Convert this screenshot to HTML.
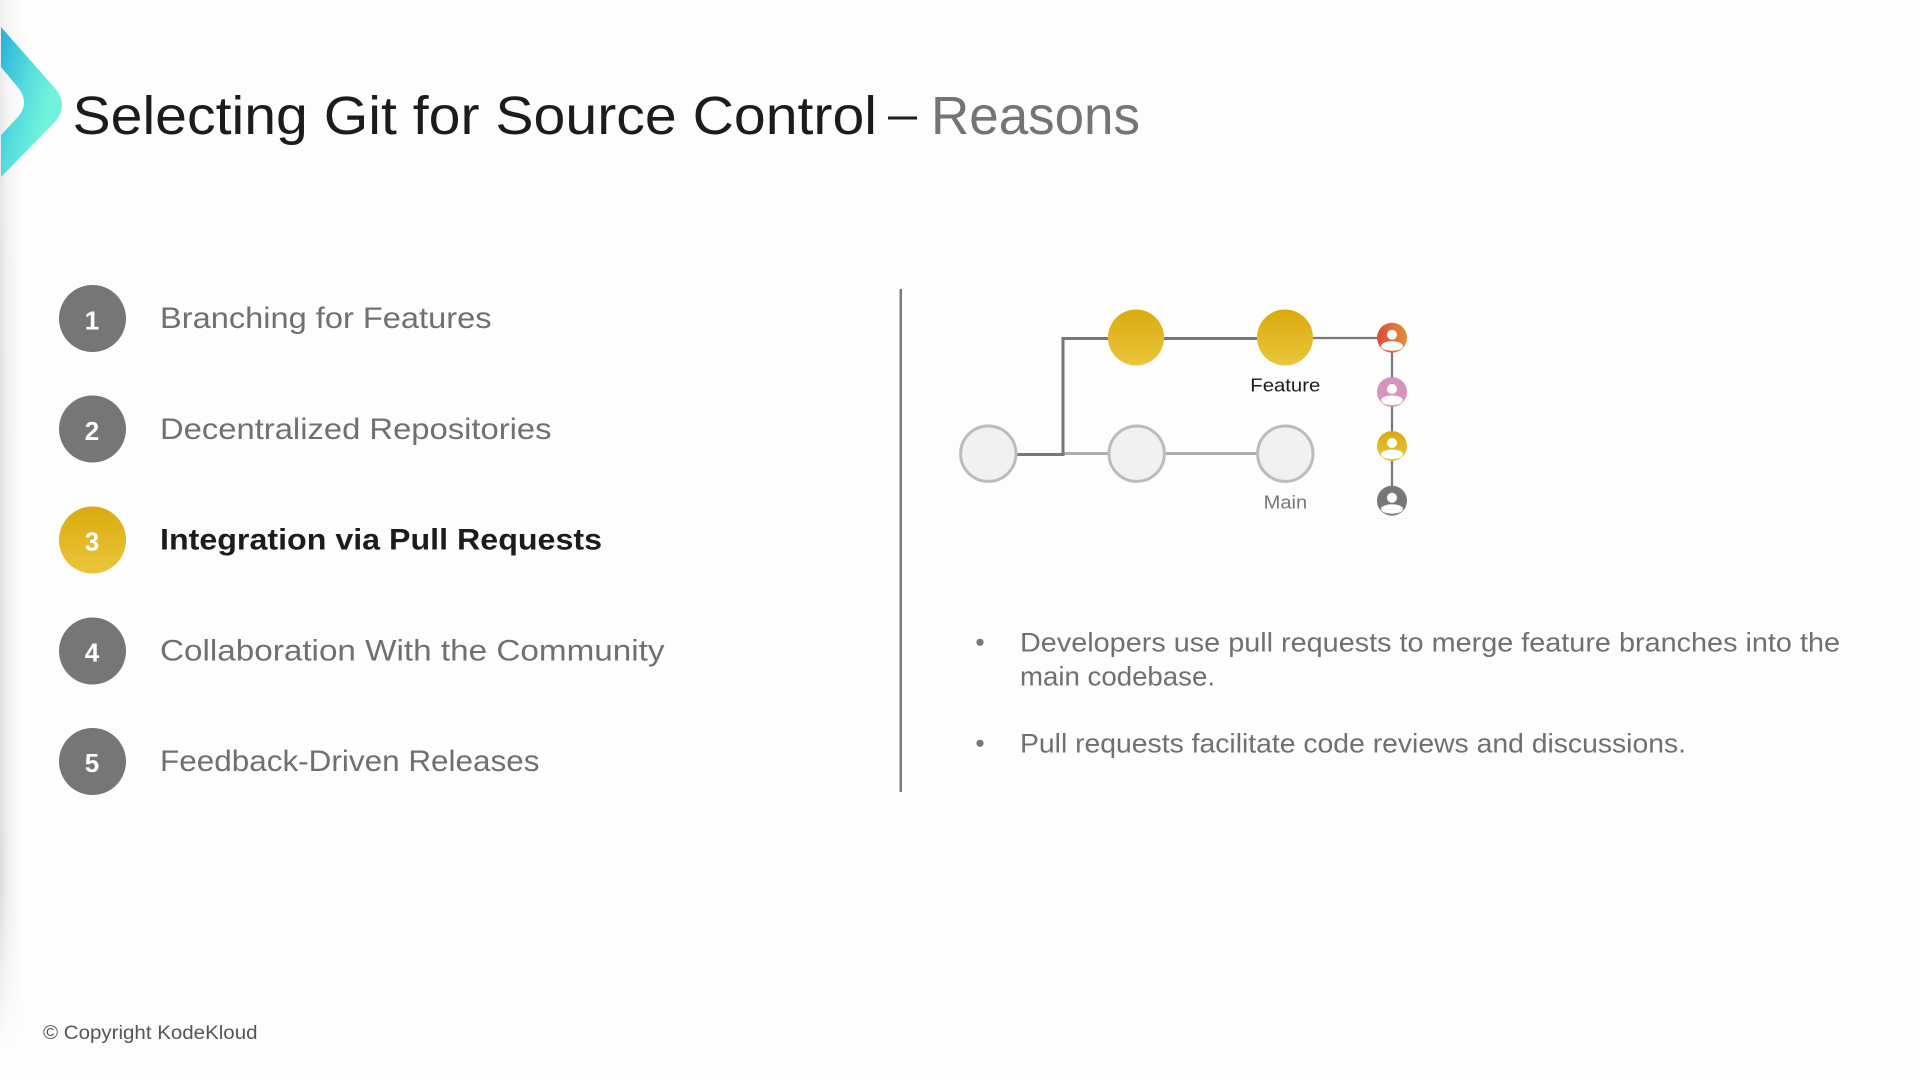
<!DOCTYPE html>
<html>
<head>
<meta charset="utf-8">
<style>
html,body{margin:0;padding:0;background:#fdfdfe;width:1920px;height:1080px;overflow:hidden}
svg{display:block}
text{font-family:"Liberation Sans",sans-serif}
</style>
</head>
<body>
<svg width="1920" height="1080" viewBox="0 0 1920 1080" xmlns="http://www.w3.org/2000/svg">
<defs>
<linearGradient id="chev" gradientUnits="userSpaceOnUse" x1="0" y1="45" x2="60" y2="60"><stop offset="0" stop-color="#2bb3d9"/><stop offset="0.55" stop-color="#55dcdc"/><stop offset="1" stop-color="#72f2da"/></linearGradient>
<linearGradient id="gold" x1="0" y1="0" x2="0" y2="1"><stop offset="0" stop-color="#d9ab0e"/><stop offset="1" stop-color="#eac53c"/></linearGradient>
<linearGradient id="red" x1="0" y1="0" x2="1" y2="0"><stop offset="0" stop-color="#dd4c36"/><stop offset="1" stop-color="#e28d3c"/></linearGradient>
<linearGradient id="shade" x1="0" y1="0" x2="1" y2="0"><stop offset="0" stop-color="#dcdcdc"/><stop offset="0.35" stop-color="#efefef"/><stop offset="1" stop-color="#fdfdfe"/></linearGradient>
<linearGradient id="fade" x1="0" y1="0" x2="0" y2="1"><stop offset="0" stop-color="#fdfdfe" stop-opacity="0.55"/><stop offset="0.25" stop-color="#fdfdfe" stop-opacity="0.2"/><stop offset="0.85" stop-color="#fdfdfe" stop-opacity="0"/><stop offset="1" stop-color="#fdfdfe" stop-opacity="1"/></linearGradient>
<clipPath id="a1"><circle cx="1392" cy="337.7" r="15"/></clipPath>
<clipPath id="a2"><circle cx="1392" cy="392" r="15"/></clipPath>
<clipPath id="a3"><circle cx="1392" cy="446" r="15"/></clipPath>
<clipPath id="a4"><circle cx="1392" cy="500.7" r="15"/></clipPath>
</defs>
<rect width="1920" height="1080" fill="#fdfdfe"/>
<rect x="0" y="0" width="22" height="1050" fill="url(#shade)"/>
<rect x="0" y="0" width="22" height="1050" fill="url(#fade)"/>
<path d="M1,27 L53,86 Q71,105 53,124 L1,177 L1,135 L16,119 Q32,103 16,85 L1,67 Z" fill="url(#chev)"/>

<text x="72.5" y="134" font-size="54" fill="#1c1c1e" textLength="804.5" lengthAdjust="spacingAndGlyphs">Selecting Git for Source Control</text>
<rect x="888" y="116.5" width="29" height="3" fill="#1c1c1e"/>
<text x="931" y="134" font-size="54" fill="#747474" textLength="209" lengthAdjust="spacingAndGlyphs">Reasons</text>

<circle cx="92.5" cy="318.5" r="33.5" fill="#767676"/>
<circle cx="92.5" cy="429" r="33.5" fill="#767676"/>
<circle cx="92.5" cy="540" r="33.5" fill="url(#gold)"/>
<circle cx="92.5" cy="651" r="33.5" fill="#767676"/>
<circle cx="92.5" cy="761.5" r="33.5" fill="#767676"/>
<g font-size="26" font-weight="700" fill="#fff" text-anchor="middle">
<text x="92" y="329.5">1</text>
<text x="92" y="440">2</text>
<text x="92" y="550.5">3</text>
<text x="92" y="661.5">4</text>
<text x="92" y="772">5</text>
</g>
<g font-size="30" fill="#707070">
<text x="160" y="328" textLength="331.5" lengthAdjust="spacingAndGlyphs">Branching for Features</text>
<text x="160" y="439" textLength="391.5" lengthAdjust="spacingAndGlyphs">Decentralized Repositories</text>
<text x="160" y="549.5" textLength="442" lengthAdjust="spacingAndGlyphs" font-weight="700" fill="#1c1c1e">Integration via Pull Requests</text>
<text x="160" y="660.3" textLength="504.5" lengthAdjust="spacingAndGlyphs">Collaboration With the Community</text>
<text x="160" y="771" textLength="379.5" lengthAdjust="spacingAndGlyphs">Feedback-Driven Releases</text>
</g>

<rect x="899.5" y="289" width="2.5" height="503" fill="#7a7a7a"/>

<path d="M1063,453.5 H1108 M1165,453.5 H1257" stroke="#b0b0b0" stroke-width="3" fill="none"/>
<path d="M1016,454.5 H1063 V338.5 H1108 M1164,338.5 H1257" stroke="#777" stroke-width="3" fill="none"/>
<path d="M1313,338 H1378 M1392,338 V486" stroke="#777" stroke-width="2.2" fill="none"/>
<circle cx="1136" cy="337.5" r="28" fill="url(#gold)"/>
<circle cx="1285" cy="337.5" r="28" fill="url(#gold)"/>
<circle cx="988.3" cy="453.7" r="27.7" fill="#f1f1f1" stroke="#bcbcbc" stroke-width="3"/>
<circle cx="1136.7" cy="453.7" r="27.7" fill="#f1f1f1" stroke="#bcbcbc" stroke-width="3"/>
<circle cx="1285.3" cy="453.7" r="27.7" fill="#f1f1f1" stroke="#bcbcbc" stroke-width="3"/>
<text x="1250.3" y="391.5" font-size="18.5" fill="#1c1c1e" textLength="70" lengthAdjust="spacingAndGlyphs">Feature</text>
<text x="1263.7" y="508.5" font-size="18.5" fill="#777" textLength="43.5" lengthAdjust="spacingAndGlyphs">Main</text>

<circle cx="1392" cy="337.7" r="15" fill="url(#red)"/>
<circle cx="1392" cy="334.7" r="5" fill="#fdfdfe"/>
<ellipse cx="1392" cy="346" rx="11" ry="4.8" fill="#fdfdfe" clip-path="url(#a1)"/>
<circle cx="1392" cy="392" r="15" fill="#d494bf"/>
<circle cx="1392" cy="389" r="5" fill="#fdfdfe"/>
<ellipse cx="1392" cy="400.3" rx="11" ry="4.8" fill="#fdfdfe" clip-path="url(#a2)"/>
<circle cx="1392" cy="446" r="15" fill="url(#gold)"/>
<circle cx="1392" cy="443" r="5" fill="#fdfdfe"/>
<ellipse cx="1392" cy="454.3" rx="11" ry="4.8" fill="#fdfdfe" clip-path="url(#a3)"/>
<circle cx="1392" cy="500.7" r="15" fill="#777"/>
<circle cx="1392" cy="497.7" r="5" fill="#fdfdfe"/>
<ellipse cx="1392" cy="509" rx="11" ry="4.8" fill="#fdfdfe" clip-path="url(#a4)"/>

<circle cx="980" cy="642.3" r="3.6" fill="#777"/>
<circle cx="980" cy="743.3" r="3.6" fill="#777"/>
<g font-size="27" fill="#707070">
<text x="1020" y="651.7" textLength="820" lengthAdjust="spacingAndGlyphs">Developers use pull requests to merge feature branches into the</text>
<text x="1020" y="685.5" textLength="195" lengthAdjust="spacingAndGlyphs">main codebase.</text>
<text x="1020" y="752.7" textLength="666" lengthAdjust="spacingAndGlyphs">Pull requests facilitate code reviews and discussions.</text>
</g>
<text x="43" y="1039" font-size="19.5" fill="#555" textLength="214.5" lengthAdjust="spacingAndGlyphs">© Copyright KodeKloud</text>
</svg>
</body>
</html>
